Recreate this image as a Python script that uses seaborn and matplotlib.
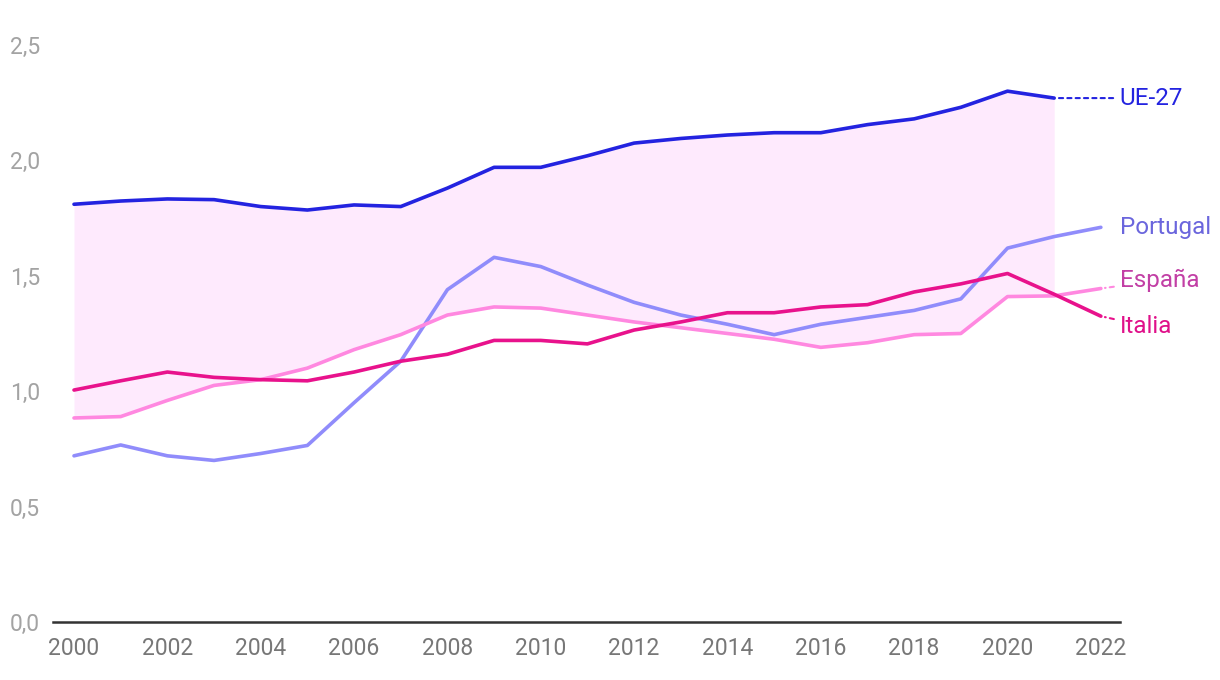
import numpy as np
import pandas as pd
import matplotlib
matplotlib.use("Agg")
import matplotlib.pyplot as plt
import seaborn as sns

# Data
years = list(range(2000, 2023))
ue27 = [1.81, 1.824, 1.833, 1.83, 1.80, 1.785, 1.807, 1.80, 1.88, 1.97, 1.97,
        2.02, 2.075, 2.095, 2.11, 2.12, 2.12, 2.155, 2.18, 2.23, 2.30, 2.27, np.nan]
portugal = [0.72, 0.767, 0.72, 0.70, 0.73, 0.765, 0.95, 1.13, 1.44, 1.58, 1.54,
            1.46, 1.385, 1.33, 1.29, 1.245, 1.29, 1.32, 1.35, 1.40, 1.62, 1.67, 1.71]
espana = [0.884, 0.89, 0.96, 1.025, 1.05, 1.10, 1.18, 1.245, 1.33, 1.365, 1.36,
          1.33, 1.30, 1.275, 1.25, 1.225, 1.19, 1.21, 1.245, 1.25, 1.41, 1.413, 1.445]
italia = [1.005, 1.045, 1.083, 1.06, 1.05, 1.045, 1.083, 1.13, 1.16, 1.22, 1.22,
          1.205, 1.265, 1.30, 1.34, 1.34, 1.365, 1.375, 1.43, 1.465, 1.51, 1.42, 1.325]

series_names = ["UE-27", "Portugal", "España", "Italia"]
line_colors = {"UE-27": "#2323e0", "Portugal": "#908cfb",
               "España": "#ff88e0", "Italia": "#e8128c"}
label_colors = {"UE-27": "#2323e0", "Portugal": "#6b66dd",
                "España": "#c23fa5", "Italia": "#e0108a"}

df = pd.DataFrame({"year": years, "UE-27": ue27, "Portugal": portugal,
                   "España": espana, "Italia": italia})
long_df = df.melt(id_vars="year", var_name="serie", value_name="valor").dropna()

sns.set_theme(style="white")
plt.rcParams["font.family"] = ["Roboto", "DejaVu Sans"]

fig = plt.figure(figsize=(12.2, 6.8), dpi=100)
ax = fig.add_axes([53 / 1220, 58 / 680, 1067 / 1220, 577 / 680])

# shaded band between UE-27 and España
band = df.dropna(subset=["UE-27"])
ax.fill_between(band["year"], band["España"], band["UE-27"],
                color="#feeafd", linewidth=0, zorder=1)

sns.lineplot(data=long_df, x="year", y="valor", hue="serie",
             hue_order=["Portugal", "España", "Italia", "UE-27"],
             palette=line_colors, linewidth=2.6, legend=False, ax=ax, zorder=3)

ax.set_xlim(1999.55, 2022.41)
ax.set_ylim(0, 2.5)
ax.set_xticks(range(2000, 2023, 2))
ax.set_yticks([0, 0.5, 1.0, 1.5, 2.0, 2.5])
ax.set_yticklabels([f"{v:.1f}".replace(".", ",") for v in ax.get_yticks()])
ax.set_xlabel("")
ax.set_ylabel("")

for s in ["top", "right", "left"]:
    ax.spines[s].set_visible(False)
ax.spines["bottom"].set_color("#333333")
ax.spines["bottom"].set_linewidth(1.8)
ax.tick_params(axis="x", length=0, pad=11, labelsize=16.5, labelcolor="#777777")
ax.tick_params(axis="y", length=0, pad=0, labelsize=16.5, labelcolor="#a3a3a3")
for t in ax.get_yticklabels():
    t.set_horizontalalignment("left")
    t.set_x(-43 / 1067)

# end labels
label_offsets = {"UE-27": (65, 0), "Portugal": (19, 0),
                 "España": (19, 8), "Italia": (19, -10)}
connector = {"UE-27": True, "Portugal": False, "España": True, "Italia": True}
for name in series_names:
    s = df[["year", name]].dropna()
    x_last, y_last = s["year"].iloc[-1], s[name].iloc[-1]
    dx, dy = label_offsets[name]
    props = None
    if connector[name]:
        props = dict(arrowstyle="-", linestyle=(0, (2, 2)), color=line_colors[name],
                     linewidth=1.5, shrinkA=2, shrinkB=3)
    ax.annotate(name, xy=(x_last, y_last), xytext=(dx, dy),
                textcoords="offset pixels", ha="left", va="center",
                fontsize=17.5, color=label_colors[name],
                arrowprops=props, annotation_clip=False)

fig.savefig("out.png", dpi=100)
